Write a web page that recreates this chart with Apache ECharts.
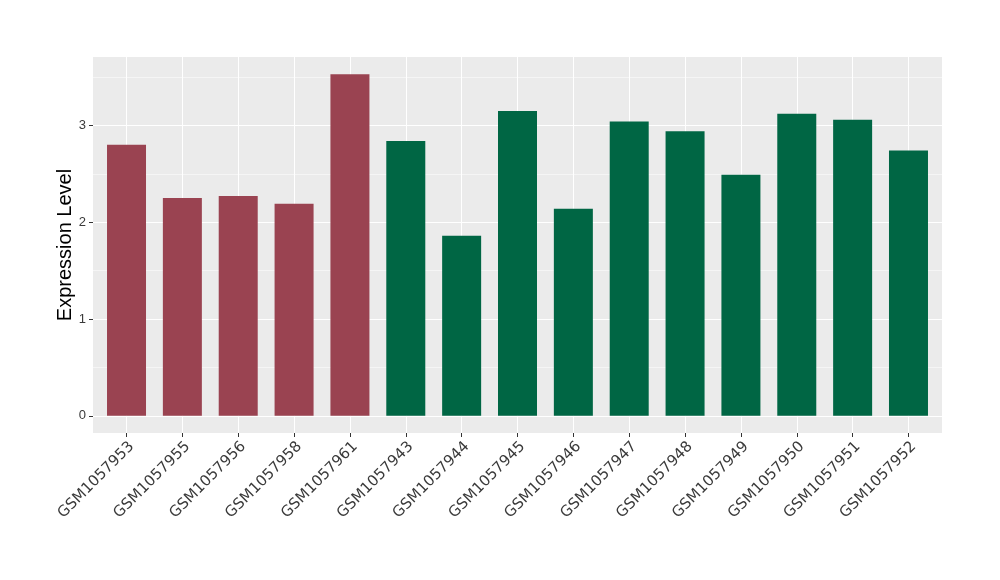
<!DOCTYPE html>
<html>
<head>
<meta charset="utf-8">
<script src="https://cdn.jsdelivr.net/npm/echarts@6/dist/echarts.min.js"></script>
<style>html,body{margin:0;padding:0;background:#fff}#c{width:1000px;height:580px}</style>
</head>
<body>
<div id="c"></div>
<script>
const categories = ['GSM1057953','GSM1057955','GSM1057956','GSM1057958','GSM1057961','GSM1057943','GSM1057944','GSM1057945','GSM1057946','GSM1057947','GSM1057948','GSM1057949','GSM1057950','GSM1057951','GSM1057952'];
const values = [2.80, 2.25, 2.27, 2.19, 3.53, 2.84, 1.86, 3.15, 2.14, 3.04, 2.94, 2.49, 3.12, 3.06, 2.74];
const groups = ['A','A','A','A','A','B','B','B','B','B','B','B','B','B','B'];
const yTicks = [0, 1, 2, 3];
const yMinorTicks = [0.5, 1.5, 2.5, 3.5];
const xTicks = categories.map((_, i) => i);

const groupColors = { A: '#9A4351', B: '#006644' };

const chart = echarts.init(document.getElementById('c'), null, { renderer: 'canvas' });
const yMin = -0.177, yMax = 3.707;
chart.setOption({
  animation: false,
  grid: { left: 93, right: 58, top: 57, bottom: 147, show: true, backgroundColor: '#EBEBEB', borderWidth: 0, containLabel: false },
  xAxis: {
    type: 'value', min: -0.6, max: 14.6,
    axisLine: { show: false, onZero: false },
    axisTick: { show: true, customValues: xTicks, length: 4, lineStyle: { color: '#333333', width: 1 } },
    axisLabel: {
      customValues: xTicks, rotate: 45, margin: 6, verticalAlign: 'top',
      formatter: v => categories[Math.round(v)] || '',
      color: '#3A3A3A', fontSize: 15, fontFamily: 'DejaVu Sans'
    },
    splitLine: { show: true, lineStyle: { color: '#FFFFFF', width: 1 } }
  },
  yAxis: [{
    type: 'value', min: yMin, max: yMax,
    name: 'Expression Level', nameLocation: 'middle', nameGap: 18, nameMoveOverlap: false,
    nameTextStyle: { fontSize: 20, color: '#000', fontFamily: 'Liberation Sans' },
    axisLine: { show: false, onZero: false },
    axisTick: { show: true, customValues: yTicks, length: 4, lineStyle: { color: '#333333', width: 1 } },
    axisLabel: { customValues: yTicks, margin: 7, color: '#3A3A3A', fontSize: 13, fontFamily: 'Liberation Sans' },
    splitLine: { show: true, lineStyle: { color: '#FFFFFF', width: 1.1 } }
  }, {
    type: 'value', min: yMin, max: yMax, position: 'left',
    axisLine: { show: false, onZero: false },
    axisTick: { show: false, customValues: yMinorTicks },
    axisLabel: { show: false },
    splitLine: { show: true, lineStyle: { color: '#FFFFFF', width: 0.5 } }
  }],
  series: [{
    type: 'bar', xAxisIndex: 0, yAxisIndex: 0, barWidth: 39,
    data: values.map((v, i) => ({ value: [i, v], itemStyle: { color: groupColors[groups[i]] } }))
  }]
});
</script>
</body>
</html>
